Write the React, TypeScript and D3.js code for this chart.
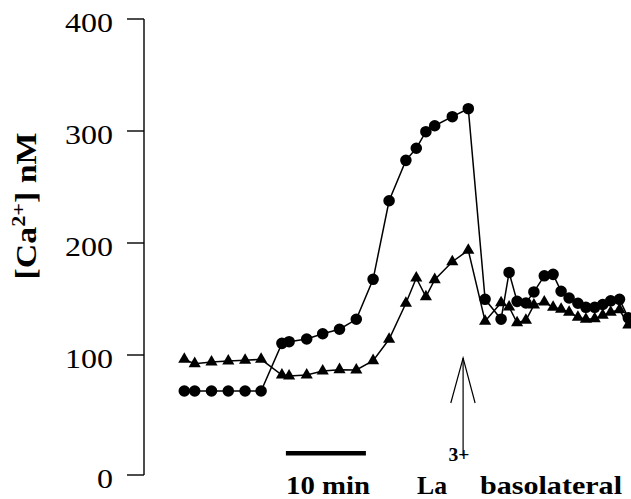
import React from "react";
import * as d3 from "d3";

// time (min) of each measurement
const timeMin = [
  0.0, 1.3, 3.4, 5.5, 7.6, 9.6, 12.2, 13.1, 15.3, 17.3, 19.4, 21.5, 23.6, 25.6,
  27.7, 29.0, 30.2, 31.3, 33.5, 35.5, 37.6, 39.6, 40.6, 41.6, 42.7, 43.7, 45.0,
  46.1, 47.1, 48.1, 49.2, 50.2, 51.3, 52.3, 53.3, 54.4, 55.5,
];
// [Ca2+] nM, circle series
const caCircle = [
  70, 70, 70, 70, 70, 70, 110.4, 111.9, 114.3, 119, 123, 131.9, 167.6, 237.7,
  273.8, 284.6, 299.4, 304.7, 312.8, 319.9, 149.7, 132, 173.7, 147.9, 146.4,
  156.3, 170.7, 172, 156.9, 150.9, 146.2, 142.6, 142.6, 145.1, 148.4, 149.7, 133.2,
];
// [Ca2+] nM, triangle series
const caTriangle = [
  96.4, 92.8, 94.2, 95, 95.6, 96.4, 83.3, 82.5, 83.3, 86.7, 87.8, 87.5, 95.3, 114,
  146.2, 168.8, 152, 167.3, 183.3, 193.5, 130.2, 146.7, 142.9, 128.8, 131, 144.6,
  147.3, 142.6, 140.9, 138.2, 133.7, 131.9, 132.4, 135.4, 138.2, 140.4, 126.8,
];
const yTicks = [0, 100, 200, 300, 400];
const scaleBarStart = 12.7; // min
const scaleBarLength = 10; // min
const arrowTime = 34.85; // min

export default function App() {
  const W = 631;
  const H = 499;
  const x = d3.scaleLinear().domain([0, 56]).range([184.3, 184.3 + 56 * 8]);
  const y = d3.scaleLinear().domain([0, 100, 400]).range([475, 355, 19]);

  const lineC = d3
    .line<number>()
    .x((_, i) => x(timeMin[i]))
    .y((d) => y(d));

  const circleSym = d3.symbol(d3.symbolCircle, 105)();
  const triSym = d3.symbol(d3.symbolTriangle, 64)();

  const axisX = 144;
  const serif = "Liberation Serif";
  const ax = x(arrowTime);

  return (
    <svg
      width={W}
      height={H}
      style={{ position: "absolute", left: 0, top: 0, background: "#fff" }}
    >
      <rect width={W} height={H} fill="#fff" />
      {/* y axis */}
      <line x1={axisX} x2={axisX} y1={y(400)} y2={y(0)} stroke="#000" strokeWidth={1.4} />
      {yTicks.map((t) => (
        <g key={t}>
          <line x1={127} x2={axisX} y1={y(t)} y2={y(t)} stroke="#000" strokeWidth={1.4} />
          <text
            x={113}
            y={y(t) + 12.5}
            textAnchor="end"
            fontFamily={serif}
            fontSize={28}
            textLength={String(t).length * 16}
            lengthAdjust="spacingAndGlyphs"
          >
            {t}
          </text>
        </g>
      ))}
      {/* y label */}
      <text
        transform={`translate(36,206) rotate(-90)`}
        textAnchor="middle"
        fontFamily={serif}
        fontWeight="bold"
        fontSize={29}
        textLength={147}
        lengthAdjust="spacingAndGlyphs"
      >
        <tspan>[Ca</tspan>
        <tspan dy={-11} fontSize={19}>2+</tspan>
        <tspan dy={11}>] nM</tspan>
      </text>

      {/* series lines */}
      <path d={lineC(caCircle) || ""} fill="none" stroke="#000" strokeWidth={1.5} />
      <path d={lineC(caTriangle) || ""} fill="none" stroke="#000" strokeWidth={1.5} />
      {caCircle.map((v, i) => (
        <path key={"c" + i} d={circleSym || ""} transform={`translate(${x(timeMin[i])},${y(v)})`} fill="#000" />
      ))}
      {caTriangle.map((v, i) => (
        <path key={"t" + i} d={triSym || ""} transform={`translate(${x(timeMin[i])},${y(v)})`} fill="#000" />
      ))}

      {/* scale bar */}
      <rect
        x={x(scaleBarStart)}
        y={451}
        width={x(scaleBarStart + scaleBarLength) - x(scaleBarStart)}
        height={4.5}
        fill="#000"
      />
      <text
        x={286}
        y={494}
        fontFamily={serif}
        fontWeight="bold"
        fontSize={25}
        textLength={84}
        lengthAdjust="spacingAndGlyphs"
      >
        10 min
      </text>

      {/* arrow */}
      <line x1={ax} x2={ax} y1={358} y2={456} stroke="#000" strokeWidth={1.2} />
      <polyline
        points={`${ax - 12.3},403 ${ax},358 ${ax + 12},403`}
        fill="none"
        stroke="#000"
        strokeWidth={1.2}
      />
      <text x={417} y={494} fontFamily={serif} fontWeight="bold" fontSize={25} textLength={30} lengthAdjust="spacingAndGlyphs">
        La
      </text>
      <text x={448.5} y={461} fontFamily={serif} fontWeight="bold" fontSize={18} textLength={21} lengthAdjust="spacingAndGlyphs">
        3+
      </text>
      <text x={480} y={494} fontFamily={serif} fontWeight="bold" fontSize={25} textLength={142} lengthAdjust="spacingAndGlyphs">
        basolateral
      </text>
    </svg>
  );
}
